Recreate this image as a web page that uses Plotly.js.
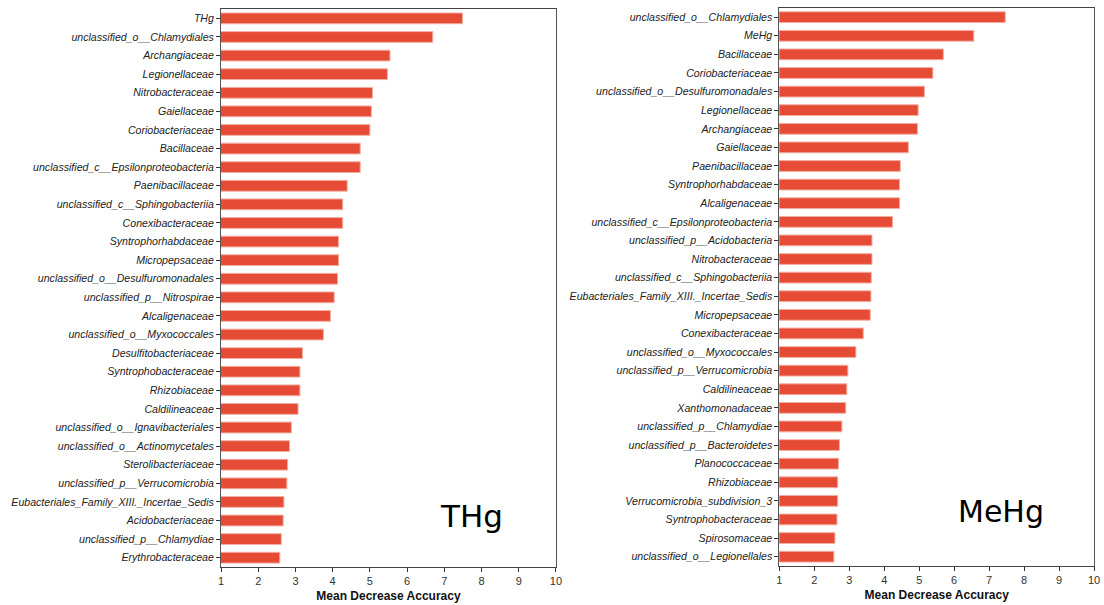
<!DOCTYPE html>
<html>
<head>
<meta charset="utf-8">
<script src="https://cdn.plot.ly/plotly-3.0.1.min.js"></script>
<style>
  html, body { margin: 0; padding: 0; background: #fff; }
  #chart { width: 1104px; height: 605px; }
</style>
</head>
<body>
<div id="chart"></div>
<script>
// Random-forest importance (Mean Decrease Accuracy) for total mercury
const thgTaxa = [
  "THg",
  "unclassified_o__Chlamydiales",
  "Archangiaceae",
  "Legionellaceae",
  "Nitrobacteraceae",
  "Gaiellaceae",
  "Coriobacteriaceae",
  "Bacillaceae",
  "unclassified_c__Epsilonproteobacteria",
  "Paenibacillaceae",
  "unclassified_c__Sphingobacteriia",
  "Conexibacteraceae",
  "Syntrophorhabdaceae",
  "Micropepsaceae",
  "unclassified_o__Desulfuromonadales",
  "unclassified_p__Nitrospirae",
  "Alcaligenaceae",
  "unclassified_o__Myxococcales",
  "Desulfitobacteriaceae",
  "Syntrophobacteraceae",
  "Rhizobiaceae",
  "Caldilineaceae",
  "unclassified_o__Ignavibacteriales",
  "unclassified_o__Actinomycetales",
  "Sterolibacteriaceae",
  "unclassified_p__Verrucomicrobia",
  "Eubacteriales_Family_XIII._Incertae_Sedis",
  "Acidobacteriaceae",
  "unclassified_p__Chlamydiae",
  "Erythrobacteraceae"
];
const thgMDA = [
  7.49, 6.69, 5.54, 5.47, 5.07, 5.04, 5.00, 4.74, 4.74, 4.39,
  4.27, 4.27, 4.16, 4.16, 4.13, 4.04, 3.94, 3.75, 3.19, 3.12,
  3.12, 3.07, 2.89, 2.84, 2.79, 2.77, 2.69, 2.67, 2.62, 2.58
];

// Random-forest importance (Mean Decrease Accuracy) for methylmercury
const mehgTaxa = [
  "unclassified_o__Chlamydiales",
  "MeHg",
  "Bacillaceae",
  "Coriobacteriaceae",
  "unclassified_o__Desulfuromonadales",
  "Legionellaceae",
  "Archangiaceae",
  "Gaiellaceae",
  "Paenibacillaceae",
  "Syntrophorhabdaceae",
  "Alcaligenaceae",
  "unclassified_c__Epsilonproteobacteria",
  "unclassified_p__Acidobacteria",
  "Nitrobacteraceae",
  "unclassified_c__Sphingobacteriia",
  "Eubacteriales_Family_XIII._Incertae_Sedis",
  "Micropepsaceae",
  "Conexibacteraceae",
  "unclassified_o__Myxococcales",
  "unclassified_p__Verrucomicrobia",
  "Caldilineaceae",
  "Xanthomonadaceae",
  "unclassified_p__Chlamydiae",
  "unclassified_p__Bacteroidetes",
  "Planococcaceae",
  "Rhizobiaceae",
  "Verrucomicrobia_subdivision_3",
  "Syntrophobacteraceae",
  "Spirosomaceae",
  "unclassified_o__Legionellales"
];
const mehgMDA = [
  7.46, 6.56, 5.69, 5.39, 5.15, 4.97, 4.95, 4.69, 4.46, 4.44,
  4.44, 4.24, 3.65, 3.65, 3.63, 3.62, 3.60, 3.40, 3.19, 2.96,
  2.93, 2.90, 2.79, 2.72, 2.69, 2.67, 2.67, 2.65, 2.59, 2.56
];

const xTicks = [1, 2, 3, 4, 5, 6, 7, 8, 9, 10];

const barColor = "#E64B35";
const barEdge = "#F3AFA4";

function barTrace(taxa, values, xa, ya) {
  return {
    type: "bar",
    orientation: "h",
    x: values,
    y: taxa,
    xaxis: xa,
    yaxis: ya,
    marker: { color: barColor, line: { color: barEdge, width: 1 } },
    hoverinfo: "x+y",
    showlegend: false
  };
}

function xAxis(domain, anchor) {
  return {
    domain: domain,
    anchor: anchor,
    range: [1, 10],
    tickvals: xTicks,
    ticktext: xTicks.map(String),
    ticks: "outside",
    ticklen: 4,
    tickcolor: "#333",
    tickfont: { family: "Liberation Sans, Arial, sans-serif", size: 11, color: "#333" },
    showgrid: false,
    zeroline: false,
    showline: true,
    linecolor: "#444",
    linewidth: 1,
    mirror: true,
    title: {
      text: "<b>Mean Decrease Accuracy</b>",
      font: { family: "Liberation Sans, Arial, sans-serif", size: 12, color: "#111" },
      standoff: 5
    }
  };
}

function yAxis(domain, anchor, taxa) {
  return {
    domain: domain,
    anchor: anchor,
    type: "category",
    categoryorder: "array",
    categoryarray: taxa,
    autorange: "reversed",
    ticks: "outside",
    ticklen: 4,
    tickcolor: "#333",
    tickfont: { family: "Liberation Sans, Arial, sans-serif", size: 10.6, color: "#222", style: "italic" },
    showgrid: false,
    zeroline: false,
    showline: true,
    linecolor: "#555",
    linewidth: 1,
    mirror: true
  };
}

const data = [
  barTrace(thgTaxa, thgMDA, "x", "y"),
  barTrace(mehgTaxa, mehgMDA, "x2", "y2")
];

const layout = {
  width: 1104,
  height: 605,
  margin: { l: 0, r: 0, t: 0, b: 0 },
  paper_bgcolor: "#fff",
  plot_bgcolor: "#fff",
  bargap: 0.42,
  xaxis: xAxis([0.2002, 0.5036], "y"),
  yaxis: yAxis([0.0628, 0.985], "x", thgTaxa),
  xaxis2: xAxis([0.7059, 0.991], "y2"),
  yaxis2: yAxis([0.0645, 0.987], "x2", mehgTaxa),
  annotations: [
    {
      text: "THg", xref: "paper", yref: "paper", x: 0.4275, y: 0.147,
      xanchor: "center", yanchor: "middle", showarrow: false,
      font: { family: "DejaVu Sans, Verdana, sans-serif", size: 31, color: "#000" }
    },
    {
      text: "MeHg", xref: "paper", yref: "paper", x: 0.9067, y: 0.154,
      xanchor: "center", yanchor: "middle", showarrow: false,
      font: { family: "DejaVu Sans, Verdana, sans-serif", size: 30, color: "#000" }
    }
  ]
};

Plotly.newPlot("chart", data, layout, { displayModeBar: false, staticPlot: true });
</script>
</body>
</html>
